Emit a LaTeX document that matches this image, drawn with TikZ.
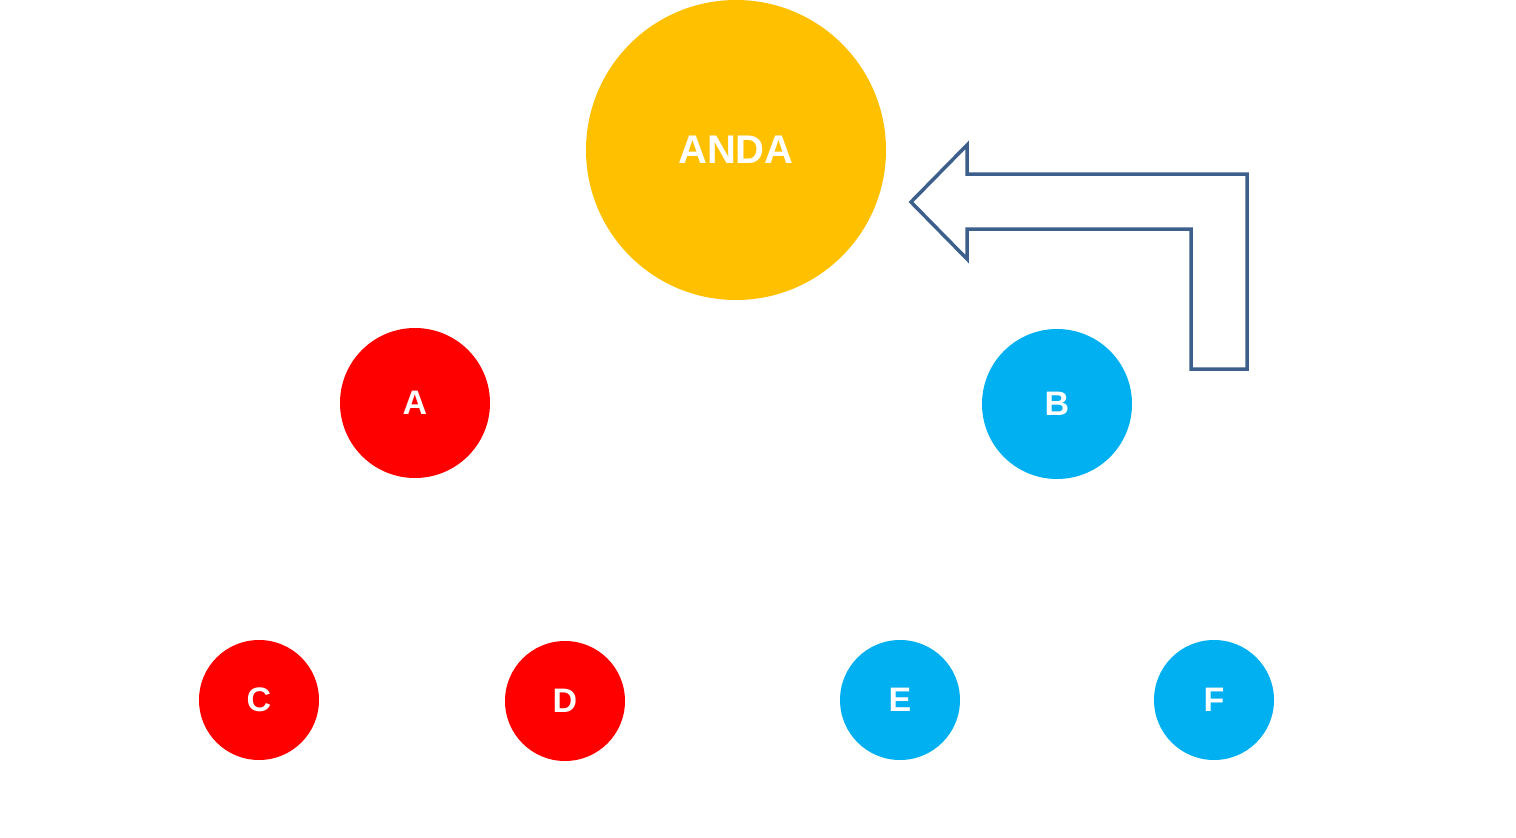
\documentclass[tikz,border=0pt]{standalone}
\usepackage{fontspec}
\setmainfont{Liberation Sans}
\definecolor{cgold}{HTML}{FFC000}
\definecolor{cred}{HTML}{FF0000}
\definecolor{cblue}{HTML}{00B0F0}
\definecolor{carrow}{HTML}{3C5F8C}
\begin{document}
\begin{tikzpicture}[x=1pt,y=-1pt,
  bubble/.style={circle,inner sep=0pt,text=white,font=\bfseries\fontsize{34}{38}\selectfont},
  big/.style={bubble,fill=cgold,minimum size=300pt,font=\bfseries\fontsize{40}{44}\selectfont},
  mid/.style={bubble,minimum size=150pt},
  small/.style={bubble,minimum size=120pt},
  bentarrow/.style={draw=carrow,line width=3.5pt,fill=white,line join=miter}]
\useasboundingbox (0,0) rectangle (1516,838);
\node[big] (anda) at (736,150) {ANDA};
\node[mid,fill=cred] (a) at (415,403) {A};
\node[mid,fill=cblue] (b) at (1057,404) {B};
\node[small,fill=cred] (c) at (259,700) {C};
\node[small,fill=cred] (d) at (565,701) {D};
\node[small,fill=cblue] (e) at (900,700) {E};
\node[small,fill=cblue] (f) at (1214,700) {F};
\draw[bentarrow] (911,202) -- (967,145) -- (967,174) -- (1247,174) -- (1247,369)
  -- (1191,369) -- (1191,229) -- (967,229) -- (967,259) -- cycle;
\end{tikzpicture}
\end{document}
